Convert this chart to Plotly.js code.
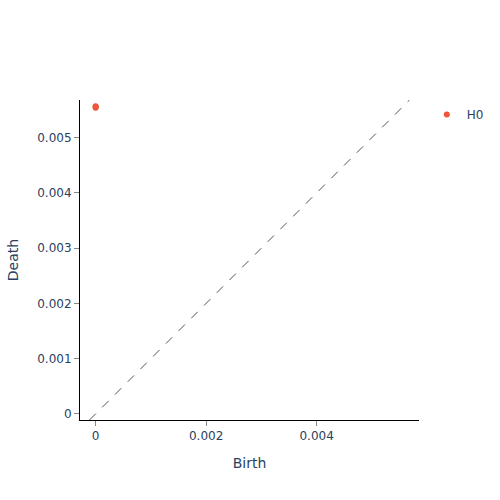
<!DOCTYPE html>
<html>
<head>
<meta charset="utf-8">
<script src="https://cdn.plot.ly/plotly-3.0.1.min.js"></script>
<style>body{margin:0;padding:0;} #chart{width:500px;height:500px;}</style>
</head>
<body>
<div id="chart"></div>
<script>
// H0 persistence pairs (birth, death)
const h0Birth = [0, 0, 0];
const h0Death = [0.00554, 0.00556, 0.00557];

// diagonal spans the padded value range
const minVal = 0;
const maxVal = 0.00557;
const extra = 0.02 * (maxVal - minVal);
const lo = minVal - extra;
const hi = maxVal + extra;

const diag = {
    x: [lo, hi], y: [lo, hi],
    mode: 'lines',
    line: { dash: 'dash', width: 1, color: '#555' },
    showlegend: false,
    hoverinfo: 'none'
};

const traceH0 = {
    x: h0Birth, y: h0Death,
    mode: 'markers',
    type: 'scatter',
    name: 'H0',
    marker: { color: '#EF553B', size: 6 }
};

const axisStyle = {
    type: 'linear', autorange: false, range: [lo, hi],
    ticks: 'outside', tickcolor: '#888', showline: true, linewidth: 1, linecolor: 'black',
    zeroline: false, showgrid: false, mirror: false, automargin: true,
    exponentformat: 'e', showexponent: 'all'
};

const layout = {
    width: 500, height: 500,
    font: { family: '"DejaVu Sans", verdana, sans-serif', color: '#2a3f5f', size: 12 },
    xaxis: Object.assign({}, axisStyle, { title: { text: 'Birth', font: { size: 14 }, standoff: 15 }, side: 'bottom' }),
    yaxis: Object.assign({}, axisStyle, { title: { text: 'Death', font: { size: 14 }, standoff: 15 }, scaleanchor: 'x', scaleratio: 1 }),
    plot_bgcolor: 'white',
    paper_bgcolor: 'white',
    margin: { l: 80, r: 80, t: 100, b: 80 }
};

Plotly.newPlot('chart', [diag, traceH0], layout, { displayModeBar: false });
</script>
</body>
</html>
